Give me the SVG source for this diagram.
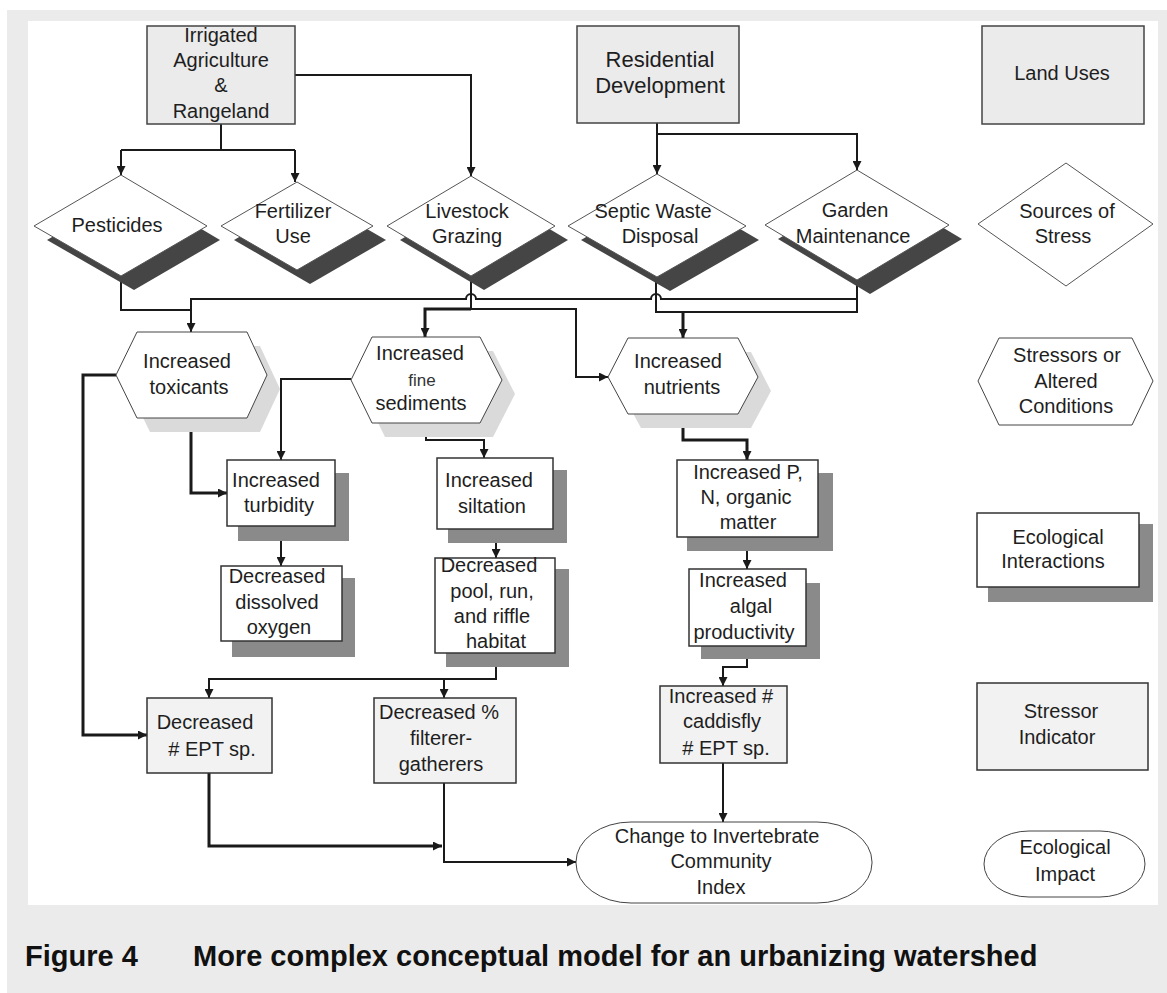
<svg xmlns="http://www.w3.org/2000/svg" width="1167" height="993" viewBox="0 0 1167 993">
<defs>
<marker id="ah" viewBox="0 0 10 10" refX="10" refY="5" markerWidth="9" markerHeight="9" markerUnits="userSpaceOnUse" orient="auto"><path d="M0,0 L10,5 L0,10 z" fill="#1a1a1a"/></marker>
<style>
text{font-family:"Liberation Sans",Arial,sans-serif;font-size:20px;fill:#1e1e1e;text-anchor:middle}
.land{fill:#ebebeb;stroke:#444;stroke-width:1.5}
.dia{fill:#fff;stroke:#555;stroke-width:1}
.dsh{fill:#454545}
.hex{fill:#fff;stroke:#444;stroke-width:1}
.hsh{fill:#dadada}
.eco{fill:#fff;stroke:#333;stroke-width:1.5}
.esh{fill:#8a8a8a}
.ind{fill:#f2f2f2;stroke:#333;stroke-width:1.5}
.imp{fill:#fff;stroke:#444;stroke-width:1}
.c{fill:none;stroke:#1a1a1a;stroke-width:2}
.ct{fill:none;stroke:#1a1a1a;stroke-width:3}
.cap{font-weight:bold;font-size:29px;fill:#111;text-anchor:start}
</style>
</defs>
<rect x="7" y="10" width="1160" height="983" fill="#ebebeb"/>
<rect x="28" y="21" width="1130" height="884" fill="#fff"/>

<g id="connectors">
<path class="c" d="M221,124 V150 M121,150 H295 M121,150 V175" marker-end="url(#ah)"/>
<path class="c" d="M295,150 V182" marker-end="url(#ah)"/>
<path class="c" d="M295,75 H471 V176" marker-end="url(#ah)"/>
<path class="c" d="M657,123 V134 H857 V170" marker-end="url(#ah)"/>
<path class="c" d="M657,134 V174" marker-end="url(#ah)"/>
<path class="c" d="M857,280 V299 H661 A5,5 0 0 0 651,299 H476 A5,5 0 0 0 466,299 H191 V332" marker-end="url(#ah)"/>
<path class="c" d="M121,276 V310 H191"/>
<path class="c" d="M471,276 V309"/>
<path class="ct" d="M471,309 H425 V337" marker-end="url(#ah)"/>
<path class="c" d="M471,309 H576 V377 H608" marker-end="url(#ah)"/>
<path class="c" d="M656,277 V312 H857 V299"/>
<path class="ct" d="M683,312 V338" marker-end="url(#ah)"/>
<path class="ct" d="M116,375 H83 V735 H147" marker-end="url(#ah)"/>
<path class="ct" d="M191,418 V493 H227" marker-end="url(#ah)"/>
<path class="c" d="M351,379 H281 V460" marker-end="url(#ah)"/>
<path class="c" d="M426,423 V440 H484 V458" marker-end="url(#ah)"/>
<path class="c" d="M281,526 V566" marker-end="url(#ah)"/>
<path class="c" d="M496,529 V558" marker-end="url(#ah)"/>
<path class="ct" d="M683,414 V440 H747 V460" marker-end="url(#ah)"/>
<path class="c" d="M747,537 V569" marker-end="url(#ah)"/>
<path class="c" d="M747,646 V667 H723 V686" marker-end="url(#ah)"/>
<path class="c" d="M496,653 V679 H209 V698" marker-end="url(#ah)"/>
<path class="c" d="M444,679 V698" marker-end="url(#ah)"/>
<path class="ct" d="M209,773 V846 H442" marker-end="url(#ah)"/>
<path class="c" d="M444,783 V862 H576" marker-end="url(#ah)"/>
<path class="c" d="M723,763 V822" marker-end="url(#ah)"/>
</g>

<g id="irrigated">
<rect class="land" x="147" y="26" width="148" height="98"/>
<text x="221" y="42">Irrigated</text>
<text x="221" y="67">Agriculture</text>
<text x="221" y="92">&amp;</text>
<text x="221" y="118">Rangeland</text>
</g>
<g id="residential">
<rect class="land" x="577" y="26" width="162" height="97"/>
<text x="660" y="67" style="font-size:22px">Residential</text>
<text x="660" y="93" style="font-size:22px">Development</text>
</g>
<g id="legend-landuses">
<rect class="land" x="982" y="26" width="162" height="98"/>
<text x="1062" y="80">Land Uses</text>
</g>

<g id="pesticides">
<polygon class="dsh" points="47,240 134,189 220,240 134,290"/>
<polygon class="dia" points="34,226 121,175 207,226 121,276"/>
<text x="117" y="232">Pesticides</text>
</g>
<g id="fertilizer">
<polygon class="dsh" points="234,240 310,196 386,240 310,284"/>
<polygon class="dia" points="221,226 297,182 373,226 297,270"/>
<text x="293" y="218">Fertilizer</text>
<text x="293" y="243">Use</text>
</g>
<g id="livestock">
<polygon class="dsh" points="400,240 484,190 568,240 484,290"/>
<polygon class="dia" points="387,226 471,176 555,226 471,276"/>
<text x="467" y="218">Livestock</text>
<text x="467" y="243">Grazing</text>
</g>
<g id="septic">
<polygon class="dsh" points="581,240 670,188 759,240 670,291"/>
<polygon class="dia" points="568,226 657,174 746,226 657,277"/>
<text x="653" y="218">Septic Waste</text>
<text x="660" y="243">Disposal</text>
</g>
<g id="garden">
<polygon class="dsh" points="778,239 870,184 962,239 870,294"/>
<polygon class="dia" points="765,225 857,170 949,225 857,280"/>
<text x="855" y="217">Garden</text>
<text x="853" y="243">Maintenance</text>
</g>
<g id="legend-sources">
<polygon class="dia" points="978,224 1066,163 1153,224 1066,286"/>
<text x="1067" y="218">Sources of</text>
<text x="1063" y="243">Stress</text>
</g>

<g id="toxicants">
<polygon class="hsh" points="129,389 150,346 260,346 280,389 260,432 150,432"/>
<polygon class="hex" points="116,375 137,332 247,332 267,375 247,418 137,418"/>
<text x="187" y="368">Increased</text>
<text x="189" y="394">toxicants</text>
</g>
<g id="sediments">
<polygon class="hsh" points="364,394 385,351 493,351 515,394 493,437 385,437"/>
<polygon class="hex" points="351,380 372,337 480,337 502,380 480,423 372,423"/>
<text x="420" y="360">Increased</text>
<text x="422" y="386" style="font-size:17px;fill:#333">fine</text>
<text x="421" y="410">sediments</text>
</g>
<g id="nutrients">
<polygon class="hsh" points="621,391 641,352 751,352 771,391 751,428 641,428"/>
<polygon class="hex" points="608,377 628,338 738,338 758,377 738,414 628,414"/>
<text x="678" y="368">Increased</text>
<text x="682" y="394">nutrients</text>
</g>
<g id="legend-stressors">
<polygon class="hex" points="978,381 999,338 1132,338 1153,381 1132,425 999,425"/>
<text x="1067" y="362">Stressors or</text>
<text x="1066" y="388">Altered</text>
<text x="1066" y="413">Conditions</text>
</g>

<g id="turbidity">
<rect class="esh" x="238" y="473" width="111" height="68"/>
<rect class="eco" x="227" y="460" width="108" height="66"/>
<text x="276" y="487">Increased</text>
<text x="279" y="512">turbidity</text>
</g>
<g id="oxygen">
<rect class="esh" x="232" y="578" width="123" height="79"/>
<rect class="eco" x="221" y="566" width="121" height="75"/>
<text x="277" y="583">Decreased</text>
<text x="277" y="609">dissolved</text>
<text x="279" y="634">oxygen</text>
</g>
<g id="siltation">
<rect class="esh" x="448" y="470" width="119" height="73"/>
<rect class="eco" x="437" y="458" width="116" height="71"/>
<text x="489" y="487">Increased</text>
<text x="492" y="513">siltation</text>
</g>
<g id="habitat">
<rect class="esh" x="446" y="569" width="123" height="98"/>
<rect class="eco" x="435" y="558" width="120" height="95"/>
<text x="489" y="572">Decreased</text>
<text x="492" y="598">pool, run,</text>
<text x="492" y="623">and riffle</text>
<text x="496" y="648">habitat</text>
</g>
<g id="pn">
<rect class="esh" x="687" y="473" width="146" height="78"/>
<rect class="eco" x="677" y="460" width="141" height="77"/>
<text x="748" y="479">Increased P,</text>
<text x="746" y="504">N, organic</text>
<text x="748" y="529">matter</text>
</g>
<g id="algal">
<rect class="esh" x="701" y="583" width="119" height="76"/>
<rect class="eco" x="689" y="569" width="117" height="77"/>
<text x="743" y="587">Increased</text>
<text x="751" y="613">algal</text>
<text x="744" y="639">productivity</text>
</g>
<g id="legend-eco">
<rect class="esh" x="988" y="524" width="165" height="78"/>
<rect class="eco" x="977" y="513" width="162" height="74"/>
<text x="1058" y="544">Ecological</text>
<text x="1053" y="568">Interactions</text>
</g>

<g id="ept">
<rect class="ind" x="147" y="698" width="125" height="75"/>
<text x="205" y="729">Decreased</text>
<text x="212" y="756"># EPT sp.</text>
</g>
<g id="filterer">
<rect class="ind" x="374" y="698" width="142" height="85"/>
<text x="439" y="719">Decreased %</text>
<text x="441" y="745">filterer-</text>
<text x="441" y="771">gatherers</text>
</g>
<g id="caddisfly">
<rect class="ind" x="660" y="686" width="127" height="77"/>
<text x="721" y="703">Increased #</text>
<text x="722" y="728">caddisfly</text>
<text x="726" y="755"># EPT sp.</text>
</g>
<g id="legend-indicator">
<rect class="ind" x="977" y="683" width="171" height="87"/>
<text x="1061" y="718">Stressor</text>
<text x="1057" y="744">Indicator</text>
</g>

<g id="cici">
<rect class="imp" x="576" y="822" width="296" height="81" rx="55" ry="40"/>
<text x="717" y="843">Change to Invertebrate</text>
<text x="721" y="868">Community</text>
<text x="721" y="894">Index</text>
</g>
<g id="legend-impact">
<rect class="imp" x="984" y="831" width="161" height="66" rx="45" ry="33"/>
<text x="1065" y="854">Ecological</text>
<text x="1065" y="881">Impact</text>
</g>

<text class="cap" x="25" y="966">Figure 4</text>
<text class="cap" x="193" y="966">More complex conceptual model for an urbanizing watershed</text>
</svg>
